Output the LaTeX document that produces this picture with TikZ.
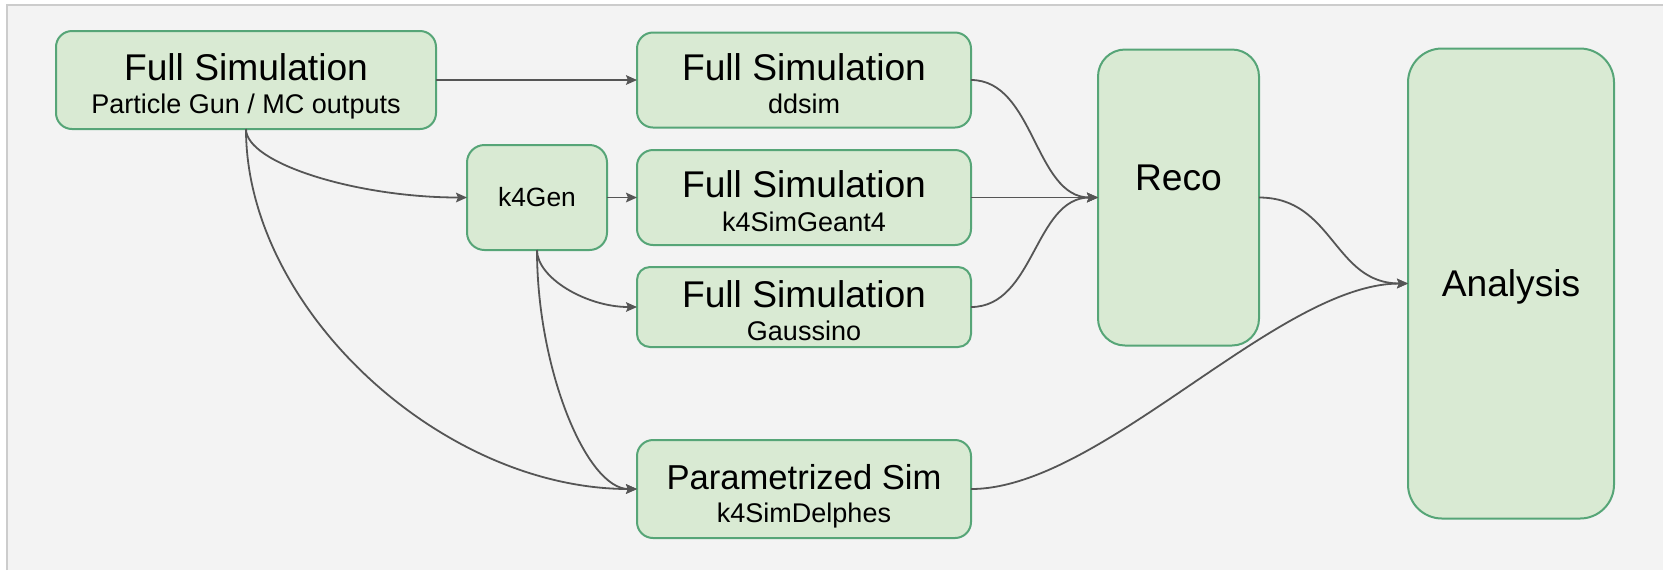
\documentclass[tikz,border=0pt]{standalone}
\usepackage{fontspec}
\setmainfont{Liberation Sans}
\usetikzlibrary{positioning,arrows.meta}

\definecolor{boxfill}{HTML}{D9EAD3}
\definecolor{boxline}{HTML}{56A577}
\definecolor{flowline}{HTML}{555555}
\definecolor{canvas}{HTML}{F3F3F3}
\definecolor{frameline}{HTML}{CCCCCC}
\newcommand{\headfont}{\fontsize{18.6}{16.8}\selectfont}
\newcommand{\subfont}{\fontsize{13.5}{16.8}\selectfont}
% title line over a subtitle line, baseline of the title on the node centre
\newcommand{\stagetext}[2]{\rule{0pt}{19.8pt}#1\\{\subfont\rule[-3pt]{0pt}{3pt}#2}}

\begin{document}
\begin{tikzpicture}[
        stage/.style={draw=boxline, fill=boxfill, line width=1pt, align=center, font=\headfont, inner sep=0pt, outer sep=0pt},
        flow/.style={draw=flowline, line width=0.9pt, -{Stealth[length=5.5pt,width=4.8pt,inset=1pt]}}
    ]
        % canvas and frame
        \useasboundingbox (0,0) rectangle (831.5pt,-285pt);
        \fill[white] (0,0) rectangle (831.5pt,-285pt);
        \fill[canvas] (3.25pt,-2.25pt) rectangle (831.5pt,-285pt);
        \draw[frameline, line width=1pt] (3.25pt,-285pt) -- (3.25pt,-2.25pt) -- (831.5pt,-2.25pt);

        % input node
        \node[stage, rounded corners=8pt, minimum width=190pt, minimum height=49pt] (fullsim) at (123pt,-40pt) {\stagetext{Full Simulation}{Particle Gun / MC outputs}};

        % simulation nodes
        \node[stage, rounded corners=8pt, minimum width=167pt, minimum height=47.5pt, right=100.5pt of fullsim] (ddsim) {\stagetext{Full Simulation}{ddsim}};
        \node[stage, rounded corners=8pt, minimum width=167pt, minimum height=47.5pt, below=11.25pt of ddsim] (geant) {\stagetext{Full Simulation}{k4SimGeant4}};
        \node[stage, rounded corners=6.5pt, minimum width=167pt, minimum height=40pt, below=11pt of geant] (gaussino) {\stagetext{Full Simulation}{Gaussino}};
        \node[stage, rounded corners=8pt, minimum width=167pt, minimum height=49pt, below=46.5pt of gaussino,
              font=\fontsize{17.3}{16.8}\selectfont] (delphes) {\stagetext{Parametrized Sim}{k4SimDelphes}};

        % generator node
        \node[stage, rounded corners=8.75pt, minimum width=70pt, minimum height=52.5pt, left=15pt of geant,
              font=\fontsize{13.2}{16}\selectfont] (k4gen) {k4Gen};

        % reco and analysis nodes
        \node[stage, rounded corners=13.5pt, minimum width=80.5pt, minimum height=148pt, right=63.5pt of geant,
              label={[font=\headfont, yshift=10pt]center:Reco}] (reco) {};
        \node[stage, rounded corners=17pt, minimum width=103pt, minimum height=235pt, right=74.5pt of reco, yshift=-43pt,
              text height=13.2pt, text depth=0pt] (analysis) {Analysis};

        % straight arrows
        \draw[flow] (fullsim.east) -- (ddsim.west);
        \draw[flow] (k4gen.east) -- (geant.west);
        \draw[flow] (geant.east) -- (reco.west);

        % curved arrows down from the sources
        \draw[flow] (fullsim.south) .. controls +(0,-17.1pt) and +(-55.2pt,0) .. (k4gen.west);
        \draw[flow] (fullsim.south) .. controls +(0,-89.75pt) and +(-98pt,0) .. (delphes.west);
        \draw[flow] (k4gen.south) .. controls +(0,-14pt) and +(-25.25pt,0) .. (gaussino.west);
        \draw[flow] (k4gen.south) .. controls +(0,-59.5pt) and +(-25.25pt,0) .. (delphes.west);

        % s-curves to reco and analysis
        \draw[flow] (ddsim.east) .. controls +(31.75pt,0) and +(-31.75pt,0) .. (reco.west);
        \draw[flow] (gaussino.east) .. controls +(31.75pt,0) and +(-31.75pt,0) .. (reco.west);
        \draw[flow] (reco.east) .. controls +(37.25pt,0) and +(-37.25pt,0) .. (analysis.west);
        \draw[flow] (delphes.east) .. controls +(65pt,0) and +(-65pt,0) .. (analysis.west);
    \end{tikzpicture}
\end{document}
